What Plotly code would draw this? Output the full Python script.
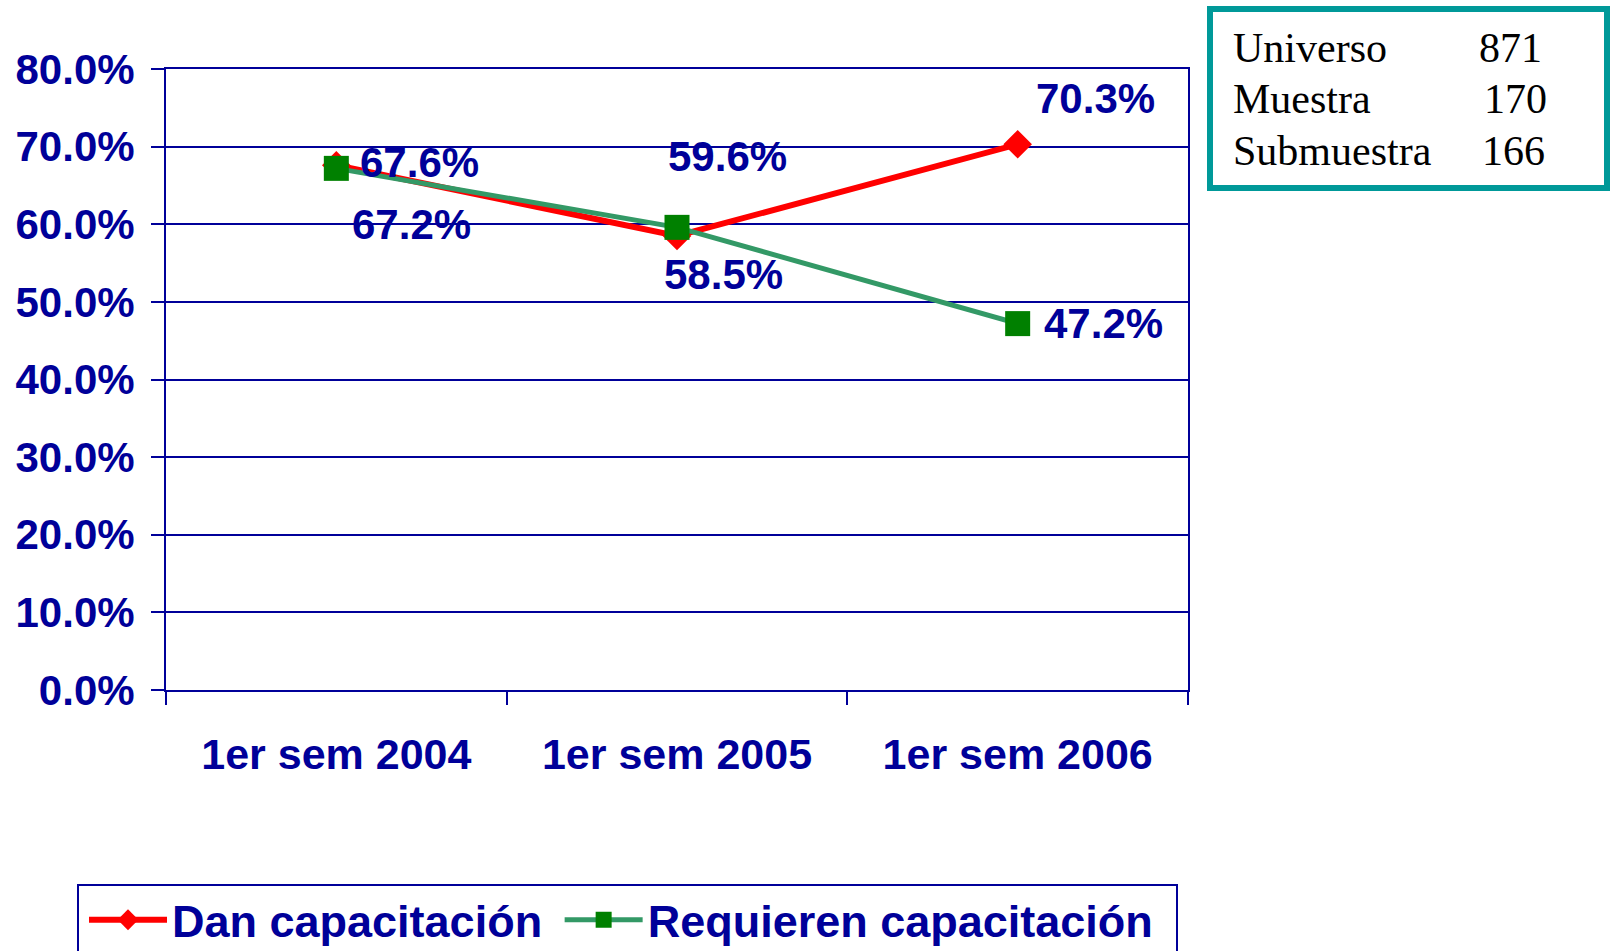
import plotly.graph_objects as go

categories = ["1er sem 2004", "1er sem 2005", "1er sem 2006"]
dan = [67.6, 58.5, 70.3]
requieren = [67.2, 59.6, 47.2]
y_ticks = [0, 10, 20, 30, 40, 50, 60, 70, 80]
info_labels = ["Universo", "Muestra", "Submuestra"]
info_values = ["871", "170", "166"]

NAVY = "#000099"
FONT = "Liberation Sans, Arial, sans-serif"
SERIF = "Liberation Serif, Times New Roman, serif"
NBSP = "\u00a0"

W, H = 1611, 951
L, R, T, B = 166, 1188, 69, 690
PW, PH = R - L, B - T


def px(x):
    return (x - L) / PW


def py(y):
    return (B - y) / PH


fig = go.Figure()
fig.add_trace(go.Scatter(
    x=categories, y=dan, name="Dan capacitación" + NBSP, mode="lines+markers",
    line=dict(color="#FF0000", width=6),
    marker=dict(symbol="diamond", size=22, color="#FF0000"),
))
fig.add_trace(go.Scatter(
    x=categories, y=requieren, name="Requieren capacitación",
    mode="lines+markers",
    line=dict(color="#339966", width=5),
    marker=dict(symbol="square", size=25, color="#008000"),
))

# data labels (offsets in px relative to each point)
dan_off = [(83, -3), (46, 39), (78, -46)]
req_off = [(75, 56), (50, -71), (86, 0)]
annotations = []
for vals, offs in ((dan, dan_off), (requieren, req_off)):
    for c, v, (dx, dy) in zip(categories, vals, offs):
        annotations.append(dict(
            x=c, y=v, xref="x", yref="y", text=f"{v:.1f}%", showarrow=False,
            xshift=dx, yshift=-dy,
            font=dict(family=FONT, size=42, color=NAVY, weight="bold"),
            xanchor="center", yanchor="middle",
        ))

# info box
label_y = [48, 99, 151]
value_x = [1477, 1482, 1480]
for lab, val, yy, vx in zip(info_labels, info_values, label_y, value_x):
    annotations.append(dict(
        x=px(1231), y=py(yy), xref="paper", yref="paper", text=lab,
        showarrow=False, xanchor="left", yanchor="middle",
        font=dict(family=SERIF, size=42, color="black"),
    ))
    annotations.append(dict(
        x=px(vx), y=py(yy), xref="paper", yref="paper", text=val,
        showarrow=False, xanchor="left", yanchor="middle",
        font=dict(family=SERIF, size=42, color="black"),
    ))

shapes = [
    dict(type="rect", xref="paper", yref="paper",
         x0=px(1210), x1=px(1607), y0=py(188), y1=py(9),
         line=dict(color="#009999", width=6), fillcolor="white", layer="below"),
    # legend frame (continues past the bottom edge, as in the original)
    dict(type="rect", xref="paper", yref="paper",
         x0=px(78), x1=px(1177), y0=py(975), y1=py(885),
         line=dict(color=NAVY, width=2), fillcolor="rgba(0,0,0,0)", layer="above"),
]

fig.update_layout(
    width=W, height=H,
    margin=dict(l=L, r=W - R, t=T, b=H - B, autoexpand=False),
    paper_bgcolor="white", plot_bgcolor="white",
    font=dict(family=FONT, color=NAVY),
    annotations=annotations,
    shapes=shapes,
    showlegend=True,
    legend=dict(
        orientation="h", x=px(84), xanchor="left", y=py(884), yanchor="top",
        borderwidth=0, bgcolor="rgba(0,0,0,0)",
        font=dict(family=FONT, size=45, color=NAVY, weight="bold"),
        itemwidth=78,
    ),
)
fig.update_xaxes(
    type="category", range=[-0.5, 2.5], tickson="boundaries",
    ticks="outside", ticklen=13, tickwidth=2, tickcolor=NAVY,
    showline=True, linecolor=NAVY, linewidth=2, mirror=True, showgrid=False,
    tickfont=dict(family=FONT, size=43, color=NAVY, weight="bold"),
    ticklabelstandoff=25,
)
fig.update_yaxes(
    range=[0, 80], tickvals=y_ticks, ticktext=[f"{v:.1f}%" for v in y_ticks],
    ticks="outside", ticklen=13, tickwidth=2, tickcolor=NAVY,
    showline=True, linecolor=NAVY, linewidth=2, mirror=True,
    showgrid=True, gridcolor=NAVY, gridwidth=2, zeroline=False,
    tickfont=dict(family=FONT, size=42, color=NAVY, weight="bold"),
    ticklabelstandoff=8,
)

fig.write_html(
    "out.html",
    config={"displayModeBar": False},
    post_script="document.body.style.margin='0px';document.body.style.overflow='hidden';",
)
